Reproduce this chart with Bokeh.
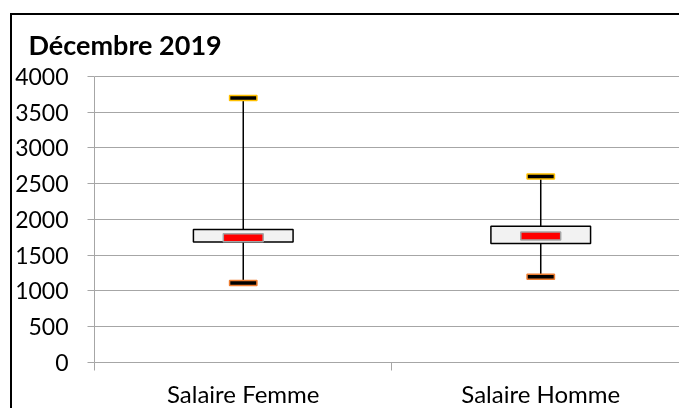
from bokeh.plotting import figure
from bokeh.models import Range1d, FixedTicker, ColumnDataSource
from bokeh.embed import file_html
from bokeh.resources import INLINE

# ---- data ----
categories = ["Salaire Femme", "Salaire Homme"]
mins = [1110, 1200]
q1 = [1685, 1665]
medians = [1745, 1770]
q3 = [1860, 1905]
maxs = [3700, 2600]
title_text = "Décembre 2019"
y_ticks = [0, 500, 1000, 1500, 2000, 2500, 3000, 3500, 4000]

xs = [i + 0.5 for i in range(len(categories))]
src = ColumnDataSource(dict(x=xs, lo=mins, q1=q1, med=medians, q3=q3, hi=maxs))

GRAY = "#a6a6a6"
FONT = "Lato"

# canvas starts at page (12, 15) because of the chart-area border drawn in CSS
p = figure(width=669, height=395,
           x_range=Range1d(0, 588 / 298), y_range=Range1d(0, 4083),
           output_backend="svg", toolbar_location=None,
           min_border_left=81, min_border_right=0, min_border_top=55, min_border_bottom=45)
p.styles = {"position": "fixed", "left": "0px", "top": "0px",
            "margin-left": "10px", "margin-top": "13px",
            "border-left": "2px solid black", "border-top": "2px solid black"}
p.outline_line_color = None
p.background_fill_color = "white"
p.border_fill_color = "white"

# title
p.title.text = title_text
p.title.text_font = FONT
p.title.text_font_size = "27px"
p.title.text_font_style = "bold"
p.title.text_color = "black"
p.title.align = "left"
p.title.offset = -66
p.title.standoff = 20

# y axis
yt = FixedTicker(ticks=y_ticks)
p.yaxis.ticker = yt
p.yaxis.bounds = (0, 4000)
p.yaxis.axis_line_color = GRAY
p.yaxis.major_tick_line_color = GRAY
p.yaxis.major_tick_out = 7
p.yaxis.major_tick_in = 0
p.yaxis.minor_tick_line_color = None
p.yaxis.major_label_standoff = 19
p.yaxis.major_label_text_font = FONT
p.yaxis.major_label_text_font_size = "23px"
p.yaxis.major_label_text_color = "black"
p.ygrid.ticker = yt
p.ygrid.grid_line_color = GRAY
p.xgrid.grid_line_color = None

# x axis: labels at category centres, tick marks between categories
xt = FixedTicker(ticks=xs, minor_ticks=[0, 1, 2])
p.xaxis.ticker = xt
p.xaxis.major_label_overrides = {x: c for x, c in zip(xs, categories)}
p.xaxis.axis_line_color = GRAY
p.xaxis.major_tick_line_color = None
p.xaxis.major_tick_out = 0
p.xaxis.major_tick_in = 0
p.xaxis.minor_tick_line_color = GRAY
p.xaxis.minor_tick_out = 8
p.xaxis.minor_tick_in = 0
p.xaxis.major_label_standoff = 8
p.xaxis.major_label_text_font = FONT
p.xaxis.major_label_text_font_size = "24px"
p.xaxis.major_label_text_color = "black"

# boxes
p.segment(x0="x", y0="lo", x1="x", y1="hi", source=src, line_color="black", line_width=1.5)
p.vbar(x="x", width=0.335, bottom="q1", top="q3", source=src,
       fill_color="#f2f2f2", line_color="black", line_width=1.5)
p.rect(x="x", y="med", width=0.134, height=8, height_units="screen", source=src,
       fill_color="#ff0000", line_color="#a5a5a5", line_width=1.5)
p.rect(x="x", y="hi", width=0.092, height=5, height_units="screen", source=src,
       fill_color="black", line_color="#ffc000", line_width=1.5)
p.rect(x="x", y="lo", width=0.092, height=5, height_units="screen", source=src,
       fill_color="black", line_color="#ed7d31", line_width=1.5)

open("out.html", "w").write(file_html(p, INLINE))
